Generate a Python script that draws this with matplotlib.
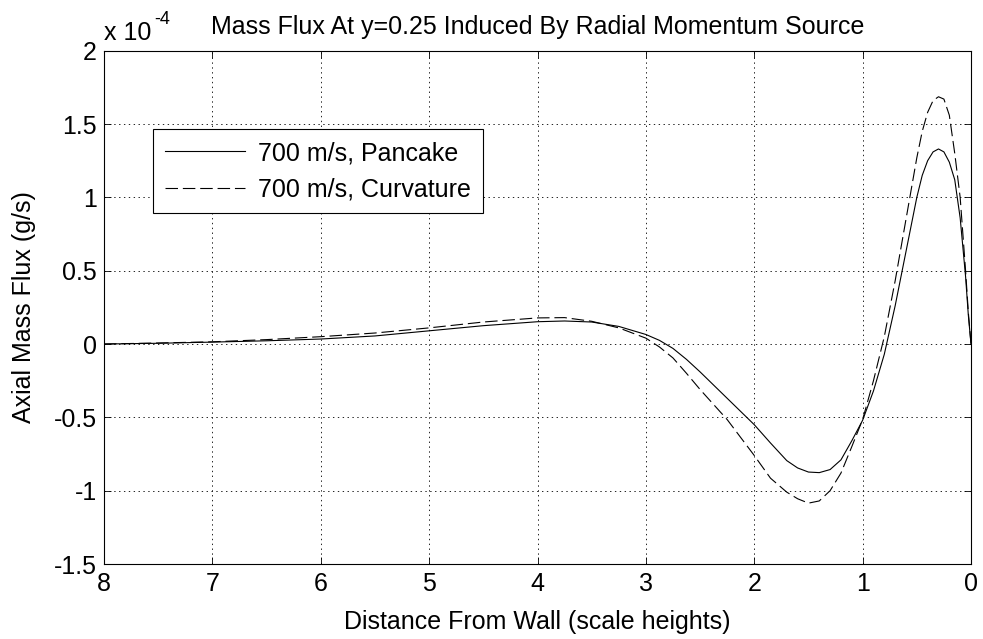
import matplotlib
matplotlib.use("Agg")
import matplotlib.pyplot as plt

plt.rcParams['font.family'] = ['Liberation Sans', 'DejaVu Sans']
plt.rcParams['lines.scale_dashes'] = False

# Distance from wall (scale heights)
distance = [8, 7.5, 7, 6.5, 6, 5.5, 5, 4.5, 4, 3.75, 3.5, 3.25, 3, 2.875, 2.75, 2.625,
            2.5, 2.25, 2, 1.85, 1.7, 1.6, 1.5, 1.4, 1.3, 1.2, 1.1, 1.0, 0.9, 0.8,
            0.7, 0.6, 0.5, 0.45, 0.4, 0.35, 0.3, 0.25, 0.2, 0.15, 0.1, 0.05, 0.025, 0]
# Axial mass flux (x 1e-4 g/s)
pancake = [0, 0.005, 0.013, 0.022, 0.034, 0.055, 0.09, 0.125, 0.152, 0.157, 0.15, 0.12,
           0.065, 0.025, -0.03, -0.105, -0.19, -0.37, -0.55, -0.675, -0.795, -0.845,
           -0.873, -0.877, -0.856, -0.79, -0.66, -0.52, -0.32, -0.07, 0.26, 0.63,
           1.0, 1.15, 1.25, 1.31, 1.33, 1.31, 1.24, 1.12, 0.86, 0.46, 0.2, 0.0]
curvature = [0, 0.007, 0.015, 0.03, 0.05, 0.075, 0.11, 0.15, 0.178, 0.18, 0.155, 0.11,
             0.04, -0.02, -0.095, -0.2, -0.31, -0.515, -0.76, -0.915, -1.01, -1.055,
             -1.085, -1.07, -1.0, -0.88, -0.70, -0.515, -0.25, 0.05, 0.43, 0.85,
             1.27, 1.45, 1.58, 1.66, 1.686, 1.67, 1.56, 1.3, 1.0, 0.5, 0.22, 0.0]

labels = ['700 m/s, Pancake', '700 m/s, Curvature']
title = 'Mass Flux At y=0.25 Induced By Radial Momentum Source'
xlabel = 'Distance From Wall (scale heights)'
ylabel = 'Axial Mass Flux (g/s)'
xticks = [8, 7, 6, 5, 4, 3, 2, 1, 0]
yticks = [-1.5, -1, -0.5, 0, 0.5, 1, 1.5, 2]
yticklabels = ['-1.5', '-1', '-0.5', '0', '0.5', '1', '1.5', '2']

W, H = 983, 639
fig = plt.figure(figsize=(W / 100, H / 100), dpi=100)
L, R, T, B = 104, 971, 50.7, 564
ax = fig.add_axes([L / W, 1 - B / H, (R - L) / W, (B - T) / H])

fs = 18
ax.plot(distance, pancake, color='black', lw=0.8, label=labels[0])
ax.plot(distance, curvature, color='black', lw=0.8, dashes=(9, 3.5), label=labels[1])

ax.set_xlim(8, 0)
ax.set_ylim(-1.5, 2)
ax.set_xticks(xticks)
ax.set_xticklabels([str(t) for t in xticks])
ax.set_yticks(yticks)
ax.set_yticklabels(yticklabels)
ax.tick_params(direction='in', top=True, right=True, length=5, width=0.6,
               labelsize=fs)
ax.tick_params(axis='x', pad=5.5)
ax.tick_params(axis='y', pad=5)
ax.grid(True, color='black', linestyle=(0, (1, 2.5)), linewidth=0.6)
for s in ax.spines.values():
    s.set_linewidth(0.8)

ax.set_xlabel(xlabel, fontsize=fs, labelpad=10)
ax.set_ylabel(ylabel, fontsize=fs, labelpad=13)
ax.set_title(title, fontsize=fs, pad=12)
ax.text(0.0, 1.012, 'x 10', transform=ax.transAxes, fontsize=fs,
        ha='left', va='bottom')
ax.text(0.058, 1.045, '-4', transform=ax.transAxes, fontsize=fs * 0.72,
        ha='left', va='bottom')

leg = ax.legend(loc='upper left', bbox_to_anchor=(153.3 / W, 1 - 129.3 / H),
                bbox_transform=fig.transFigure, borderaxespad=0, fontsize=fs,
                fancybox=False, framealpha=1, edgecolor='black',
                handlelength=3.2, handletextpad=0.53, borderpad=0.47,
                labelspacing=0.5)
leg.get_frame().set_linewidth(0.8)

fig.savefig('out.png', dpi=100)
